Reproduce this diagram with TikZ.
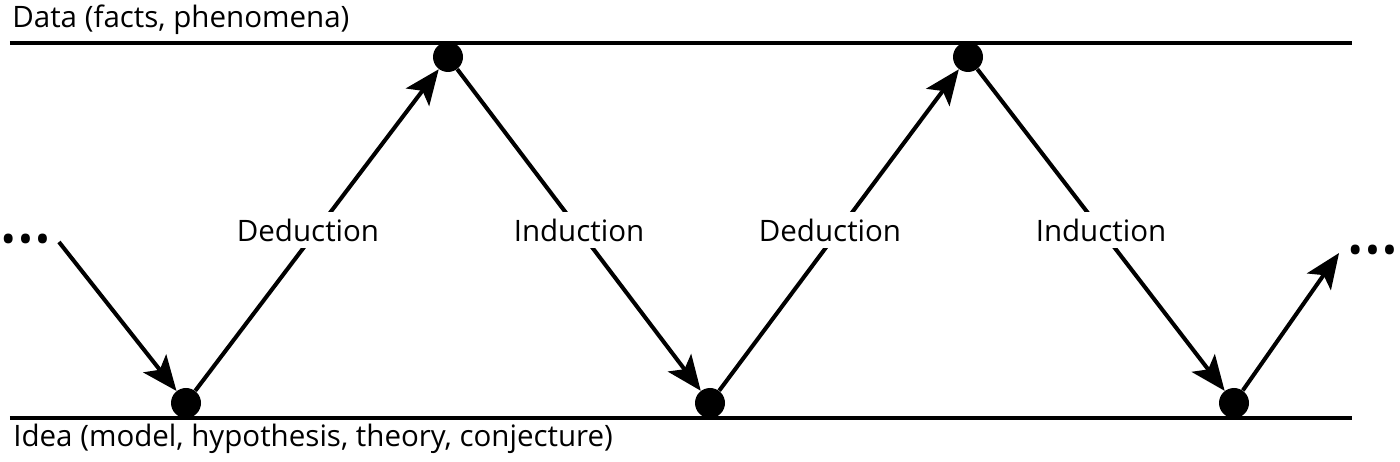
\documentclass[tikz,border=0pt]{standalone}
\usepackage{fontspec}
\setmainfont{Open Sans}
\usetikzlibrary{arrows.meta}

\begin{document}
\begin{tikzpicture}[font=\fontsize{16.8}{20}\selectfont,
  pt/.style={circle, fill=black, minimum size=0.6cm, inner sep=0pt},
  flow/.style={line width=2.3pt, -{Stealth[length=0.7cm, width=0.58cm, inset=0.16cm]}},
  lbl/.style={fill=white, inner sep=4pt},
  level/.style={line width=2.6pt},
  more/.style={inner sep=0.2cm, font=\fontsize{18}{20}\selectfont\bfseries}]

  \useasboundingbox (0,0) rectangle (28,9.24);

  % Levels
  \draw[level] (0.2,8.38) -- (27.04,8.38);
  \draw[level] (0.2,0.88) -- (27.04,0.88);
  \node[anchor=base west, inner sep=0pt] (data) at (0.24,8.68) {Data (facts, phenomena)};
  \node[anchor=base west, inner sep=0pt] (idea) at (0.26,0.30) {Idea (model, hypothesis, theory, conjecture)};

  % Points on the levels
  \node[pt] (b1) at (3.72,1.18) {};
  \node[pt] (t1) at (8.96,8.10) {};
  \node[pt] (b2) at (14.20,1.18) {};
  \node[pt] (t2) at (19.36,8.10) {};
  \node[pt] (b3) at (24.68,1.18) {};

  % Continuation
  \node[more] (lmore) at (0.51,4.40) {\textbullet\,\textbullet\,\textbullet};
  \node[more] (rmore) at (27.45,4.18) {\textbullet\,\textbullet\,\textbullet};

  % Cycle
  \draw[flow] (lmore.east) -- (b1);
  \draw[flow] (b1) -- node[lbl, xshift=-0.18cm] (ded1) {Deduction} (t1);
  \draw[flow] (t1) -- node[lbl] (ind1) {Induction} (b2);
  \draw[flow] (b2) -- node[lbl, xshift=-0.18cm] (ded2) {Deduction} (t2);
  \draw[flow] (t2) -- node[lbl] (ind2) {Induction} (b3);
  \draw[flow] (b3) -- (rmore.west);
\end{tikzpicture}
\end{document}
